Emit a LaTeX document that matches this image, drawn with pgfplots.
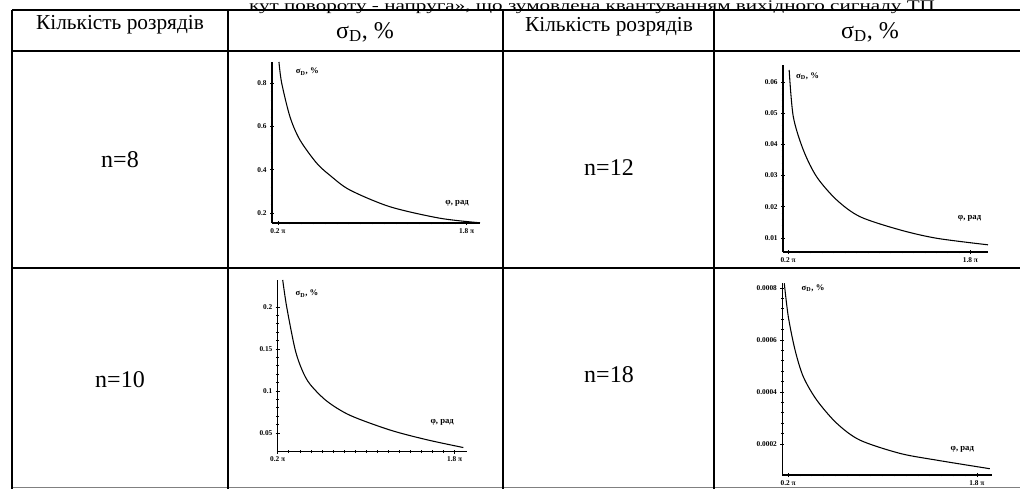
\documentclass[border=0pt]{standalone}
\usepackage{fontspec}
\setmainfont{Liberation Serif}
\usepackage{pgfplots}
\pgfplotsset{compat=1.18}
\pgfplotsset{mini/.style={scale only axis, axis lines=left,
  axis line style={-, line width=0.9pt}, clip=false,
  tick style={black, line width=0.5pt}, major tick length=3pt, minor tick length=2pt,
  xtick={0.2,1.8}, xticklabels={0.2 π,1.8 π}, minor x tick num=15,
  scaled y ticks=false,
  ticklabel style={font=\fontsize{5.5}{6}\selectfont\bfseries},
  /pgf/number format/assume math mode=true,
  xticklabel style={yshift=1pt}, yticklabel style={xshift=1pt}}}
\newcommand{\sig}{\fontsize{6.5}{6.5}\selectfont\bfseries σ\textsubscript{D}, \%}
\newcommand{\phirad}{\fontsize{6.5}{6.5}\selectfont\bfseries φ, рад}
\begin{document}
\begin{tikzpicture}
\clip (0pt,0pt) rectangle (765pt,-366.75pt);
\begin{scope}[x=0.75pt,y=-0.75pt]
\fill[white] (0,0) rectangle (1020,489);
\node[anchor=base,inner sep=0pt] at (592,10) {\scalebox{1.44}[1]{\fontsize{11}{11}\selectfont кут повороту - напруга», що зумовлена квантуванням вихідного сигналу ТП}};
\draw[line width=0.9pt] (12,10) -- (1020,10);
\draw[line width=1.6pt] (12,51) -- (1020,51);
\draw[line width=1.2pt] (12,268) -- (1020,268);
\draw[line width=0.5pt, gray] (12,487) -- (1020,487);
\foreach \x in {12,228,503,714} \draw[line width=1.1pt] (\x,10) -- (\x,489);
\node[font=\fontsize{16}{16}\selectfont] at (120,25) {Кількість розрядів};
\node[font=\fontsize{16}{16}\selectfont] at (609,27) {Кількість розрядів};
\node[font=\fontsize{18}{18}\selectfont] at (365,32) {σ\textsubscript{D}, \%};
\node[font=\fontsize{18}{18}\selectfont] at (870,32) {σ\textsubscript{D}, \%};
\node[font=\fontsize{18}{18}\selectfont] at (120,160) {n=8};
\node[font=\fontsize{18}{18}\selectfont] at (609,168) {n=12};
\node[font=\fontsize{18}{18}\selectfont] at (120,380) {n=10};
\node[font=\fontsize{18}{18}\selectfont] at (609,375) {n=18};
\end{scope}

% n=8
\begin{axis}[mini, at={(204pt,-167.25pt)}, anchor=origin, width=156pt, height=120.75pt,
  xmin=0.15, xmax=1.913, ymin=0.154, ymax=0.897,
  ytick={0.2,0.4,0.6,0.8}, yticklabels={0.2,0.4,0.6,0.8}, minor y tick num=4]
\addplot[black, line width=0.8pt, smooth, no marks] coordinates {
(0.209,0.897) (0.232,0.80) (0.303,0.643) (0.387,0.537) (0.529,0.43) (0.65,0.37) (0.811,0.306)
(1.15,0.229) (1.574,0.176) (1.913,0.155)};
\node[anchor=center] at (rel axis cs:0.17,0.94) {\sig};
\node[anchor=center] at (rel axis cs:0.89,0.12) {\phirad};
\end{axis}

% n=12
\begin{axis}[mini, at={(587.25pt,-189pt)}, anchor=origin, width=153.75pt, height=140.25pt,
  xmin=0.156, xmax=1.954, ymin=0.0055, ymax=0.0654,
  ytick={0.01,0.02,0.03,0.04,0.05,0.06}, yticklabels={0.01,0.02,0.03,0.04,0.05,0.06}, minor y tick num=4]
\addplot[black, line width=0.8pt, smooth, no marks] coordinates {
(0.21,0.0638) (0.246,0.0489) (0.334,0.0382) (0.451,0.0296) (0.626,0.0222)
(0.832,0.0168) (1.18,0.0126) (1.504,0.0099) (1.954,0.0078)};
\node[anchor=center] at (rel axis cs:0.12,0.94) {\sig};
\node[anchor=center] at (rel axis cs:0.91,0.18) {\phirad};
\end{axis}

% n=10
\begin{axis}[mini, at={(208.3pt,-338.8pt)}, anchor=origin, width=141.75pt, height=128.8pt,
  xmin=0.2, xmax=1.909, ymin=0.0277, ymax=0.232,
  ytick={0.05,0.1,0.15,0.2}, yticklabels={0.05,0.1,0.15,0.2}, minor y tick num=4]
\addplot[black, line width=0.8pt, smooth, no marks] coordinates {
(0.245,0.232) (0.281,0.200) (0.356,0.150) (0.42,0.125) (0.492,0.108) (0.643,0.088)
(0.854,0.071) (1.216,0.0535) (1.547,0.042) (1.878,0.0327)};
\node[anchor=center] at (rel axis cs:0.155,0.92) {\sig};
\node[anchor=center] at (rel axis cs:0.87,0.17) {\phirad};
\end{axis}

% n=18
\begin{axis}[mini, at={(586.7pt,-356.25pt)}, anchor=origin, width=157pt, height=143.8pt,
  xmin=0.15, xmax=1.925, ymin=0.0000808, ymax=0.000818,
  ytick={0.0002,0.0004,0.0006,0.0008}, yticklabels={0.0002,0.0004,0.0006,0.0008}, minor y tick num=4]
\addplot[black, line width=0.8pt, smooth, no marks] coordinates {
(0.167,0.000818) (0.201,0.00069) (0.258,0.000562) (0.328,0.000459) (0.442,0.000369)
(0.611,0.00028) (0.808,0.000215) (1.147,0.000164) (1.458,0.000138) (1.91,0.000105)};
\node[anchor=center] at (rel axis cs:0.147,0.975) {\sig};
\node[anchor=center] at (rel axis cs:0.86,0.136) {\phirad};
\end{axis}
\end{tikzpicture}
\end{document}
